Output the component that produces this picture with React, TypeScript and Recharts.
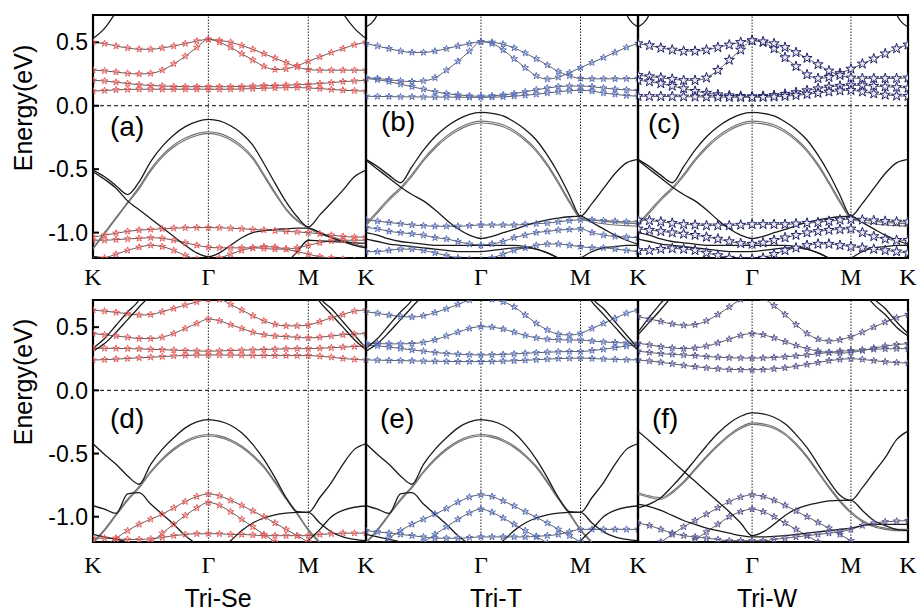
import React from "react";
import { LineChart, Line, XAxis, YAxis, ReferenceLine, ReferenceArea, Symbols } from "recharts";

// k-path sample points along K -> Γ -> M -> K (normalised path length)
const KPATH = [
  0, 0.0423, 0.0845, 0.1268, 0.169, 0.2113, 0.2536, 0.2958, 0.3381, 0.3803, 0.4226,
  0.4633, 0.5039, 0.5446, 0.5853, 0.626, 0.6667, 0.7073, 0.748, 0.7887,
  0.831, 0.8732, 0.9155, 0.9577, 1,
];
const SYM_TICKS = [0, 0.4226, 0.7887, 1];
const SYM_LABELS = ["K", "Γ", "M", "K"];
const E_TICKS = [-1, -0.5, 0, 0.5];
const E_RANGE: [number, number] = [-1.2, 0.715];

// ---- (a) Tri-Se, top row ----
const A_V1 = [-0.507, -0.56, -0.63, -0.7, -0.6, -0.44, -0.32, -0.23, -0.165, -0.126, -0.108, -0.12, -0.158, -0.218, -0.31, -0.455, -0.61, -0.757, -0.875, -0.955, -0.86, -0.765, -0.665, -0.56, -0.507];
const A_V2 = [-1.12, -1.0, -0.88, -0.76, -0.64, -0.5, -0.39, -0.31, -0.255, -0.22, -0.205, -0.218, -0.255, -0.315, -0.405, -0.54, -0.68, -0.81, -0.9, -0.96, -1.0, -1.03, -1.06, -1.09, -1.11];
const A_V3 = [-1.13, -1.01, -0.89, -0.77, -0.655, -0.515, -0.405, -0.325, -0.27, -0.234, -0.218, -0.232, -0.27, -0.33, -0.42, -0.555, -0.695, -0.82, -0.91, -0.965, -1.01, -1.04, -1.07, -1.1, -1.12];
const A_V4 = [-0.52, -0.58, -0.65, -0.75, -0.82, -0.89, -0.96, -1.03, -1.1, -1.16, -1.19, -1.16, -1.1, -1.04, -1.0, -0.985, -0.975, -0.97, -0.965, -0.965, -1.0, -1.04, -1.07, -1.1, -1.12];
const A_V5 = [-1.19, -1.2, -1.22, -1.25, -1.3, -1.3, -1.3, -1.3, -1.3, -1.3, -1.3, -1.3, -1.3, -1.3, -1.3, -1.3, -1.3, -1.24, -1.15, -1.06, -1.065, -1.07, -1.075, -1.08, -1.085];
const A_C0 = [0.53, 0.61, 0.74, 0.9, 1.1, 1.3, 1.3, 1.3, 1.3, 1.3, 1.3, 1.3, 1.3, 1.3, 1.3, 1.3, 1.3, 1.3, 1.3, 1.3, 1.1, 0.9, 0.73, 0.61, 0.53];
const A_R1 = [0.5, 0.49, 0.47, 0.455, 0.445, 0.445, 0.455, 0.47, 0.49, 0.51, 0.523, 0.5, 0.46, 0.41, 0.36, 0.31, 0.285, 0.29, 0.315, 0.35, 0.385, 0.42, 0.45, 0.48, 0.5];
const A_R2 = [0.28, 0.275, 0.265, 0.255, 0.25, 0.255, 0.28, 0.33, 0.39, 0.46, 0.523, 0.515, 0.5, 0.475, 0.445, 0.41, 0.375, 0.34, 0.305, 0.285, 0.28, 0.28, 0.28, 0.28, 0.28];
const A_R3 = [0.2, 0.195, 0.185, 0.175, 0.165, 0.16, 0.155, 0.152, 0.15, 0.15, 0.15, 0.15, 0.15, 0.152, 0.155, 0.158, 0.16, 0.162, 0.165, 0.168, 0.175, 0.182, 0.19, 0.195, 0.2];
const A_R4 = [0.115, 0.12, 0.125, 0.128, 0.13, 0.13, 0.13, 0.13, 0.13, 0.13, 0.13, 0.13, 0.13, 0.132, 0.135, 0.138, 0.14, 0.142, 0.143, 0.14, 0.135, 0.128, 0.122, 0.118, 0.115];
const A_R5 = [-1.035, -1.02, -1.005, -0.99, -0.98, -0.975, -0.97, -0.965, -0.962, -0.96, -0.96, -0.962, -0.965, -0.97, -0.975, -0.98, -0.985, -0.99, -0.995, -1.0, -1.01, -1.02, -1.03, -1.035, -1.035];
const A_R6 = [-1.06, -1.06, -1.055, -1.05, -1.045, -1.04, -1.045, -1.06, -1.08, -1.1, -1.115, -1.12, -1.12, -1.12, -1.12, -1.125, -1.13, -1.13, -1.12, -1.1, -1.08, -1.065, -1.06, -1.06, -1.06];
const A_R7 = [-1.22, -1.2, -1.17, -1.14, -1.115, -1.1, -1.11, -1.14, -1.18, -1.21, -1.22, -1.2, -1.17, -1.14, -1.12, -1.11, -1.115, -1.13, -1.15, -1.17, -1.19, -1.2, -1.21, -1.22, -1.22];

// ---- (b) Tri-T and (c) Tri-W, top row: shared plain bands ----
const B_V1 = [-0.423, -0.48, -0.547, -0.607, -0.48, -0.35, -0.245, -0.166, -0.108, -0.068, -0.053, -0.06, -0.08, -0.126, -0.187, -0.27, -0.39, -0.534, -0.705, -0.87, -0.77, -0.652, -0.534, -0.45, -0.423];
const B_V2 = [-0.93, -0.83, -0.73, -0.645, -0.54, -0.42, -0.32, -0.24, -0.18, -0.138, -0.121, -0.128, -0.15, -0.195, -0.26, -0.345, -0.46, -0.6, -0.75, -0.88, -0.9, -0.91, -0.92, -0.925, -0.93];
const B_V3 = [-0.945, -0.845, -0.745, -0.66, -0.555, -0.435, -0.335, -0.255, -0.195, -0.153, -0.136, -0.143, -0.165, -0.21, -0.275, -0.36, -0.475, -0.615, -0.765, -0.89, -0.915, -0.93, -0.94, -0.945, -0.95];
const B_V4 = [-0.43, -0.5, -0.57, -0.64, -0.7, -0.75, -0.82, -0.9, -0.97, -1.02, -1.046, -1.03, -1.0, -0.975, -0.945, -0.92, -0.9, -0.885, -0.875, -0.87, -0.92, -0.97, -1.02, -1.06, -1.09];
const B_V5 = [-1.0, -1.02, -1.05, -1.07, -1.08, -1.09, -1.1, -1.1, -1.1, -1.1, -1.1, -1.1, -1.1, -1.1, -1.11, -1.13, -1.16, -1.2, -1.24, -1.2, -1.15, -1.12, -1.11, -1.1, -1.1];
const B_V6 = [-1.05, -1.07, -1.09, -1.1, -1.11, -1.12, -1.13, -1.14, -1.15, -1.15, -1.15, -1.14, -1.13, -1.12, -1.12, -1.13, -1.16, -1.2, -1.25, -1.3, -1.3, -1.3, -1.3, -1.3, -1.3];
const B_C0 = [0.62, 0.72, 1.0, 1.3, 1.3, 1.3, 1.3, 1.3, 1.3, 1.3, 1.3, 1.3, 1.3, 1.3, 1.3, 1.3, 1.3, 1.3, 1.3, 1.3, 1.3, 1.3, 1.0, 0.72, 0.62];
const B_R1 = [0.49, 0.47, 0.45, 0.43, 0.42, 0.42, 0.43, 0.45, 0.47, 0.49, 0.505, 0.49, 0.44, 0.37, 0.3, 0.235, 0.21, 0.225, 0.26, 0.3, 0.34, 0.38, 0.42, 0.46, 0.49];
const B_R2 = [0.22, 0.215, 0.205, 0.195, 0.19, 0.195, 0.22, 0.28, 0.35, 0.43, 0.505, 0.5, 0.485, 0.455, 0.415, 0.37, 0.32, 0.27, 0.235, 0.215, 0.212, 0.212, 0.212, 0.213, 0.215];
const B_R3 = [0.215, 0.205, 0.19, 0.17, 0.15, 0.13, 0.11, 0.095, 0.085, 0.078, 0.075, 0.078, 0.085, 0.095, 0.11, 0.125, 0.14, 0.15, 0.155, 0.155, 0.15, 0.14, 0.13, 0.125, 0.12];
const B_R4 = [0.075, 0.073, 0.072, 0.07, 0.07, 0.069, 0.068, 0.068, 0.067, 0.066, 0.066, 0.067, 0.07, 0.075, 0.082, 0.09, 0.1, 0.11, 0.118, 0.122, 0.115, 0.1, 0.09, 0.08, 0.075];
const B_R5 = [-0.9, -0.91, -0.92, -0.93, -0.94, -0.945, -0.95, -0.95, -0.95, -0.945, -0.94, -0.94, -0.94, -0.94, -0.935, -0.93, -0.925, -0.915, -0.905, -0.9, -0.9, -0.905, -0.91, -0.915, -0.915];
const B_R6 = [-0.96, -0.97, -0.99, -1.0, -1.01, -1.02, -1.04, -1.05, -1.07, -1.09, -1.1, -1.09, -1.07, -1.04, -1.02, -1.0, -0.99, -0.98, -0.975, -0.97, -1.0, -1.02, -1.03, -1.035, -1.04];
const B_R7 = [-1.15, -1.15, -1.14, -1.13, -1.13, -1.14, -1.16, -1.18, -1.2, -1.21, -1.22, -1.2, -1.17, -1.14, -1.12, -1.1, -1.09, -1.09, -1.1, -1.11, -1.12, -1.12, -1.13, -1.14, -1.15];
const C_R1 = [0.49, 0.475, 0.455, 0.44, 0.43, 0.43, 0.44, 0.46, 0.48, 0.5, 0.513, 0.5, 0.45, 0.38, 0.31, 0.245, 0.215, 0.225, 0.255, 0.29, 0.33, 0.37, 0.41, 0.45, 0.48];
const C_R2 = [0.24, 0.23, 0.22, 0.21, 0.2, 0.2, 0.22, 0.28, 0.36, 0.44, 0.513, 0.505, 0.49, 0.46, 0.42, 0.375, 0.325, 0.275, 0.24, 0.22, 0.215, 0.215, 0.215, 0.215, 0.22];
const C_R3 = [0.2, 0.19, 0.175, 0.155, 0.135, 0.115, 0.1, 0.088, 0.08, 0.075, 0.073, 0.075, 0.082, 0.092, 0.105, 0.12, 0.135, 0.148, 0.155, 0.16, 0.16, 0.155, 0.15, 0.145, 0.14];
const C_R4 = [0.075, 0.074, 0.073, 0.072, 0.071, 0.07, 0.069, 0.068, 0.067, 0.066, 0.066, 0.067, 0.07, 0.075, 0.082, 0.09, 0.1, 0.11, 0.118, 0.122, 0.11, 0.095, 0.085, 0.078, 0.075];
const C_R5 = [-0.9, -0.905, -0.915, -0.925, -0.935, -0.94, -0.945, -0.945, -0.945, -0.94, -0.935, -0.935, -0.935, -0.935, -0.93, -0.925, -0.92, -0.91, -0.9, -0.895, -0.9, -0.905, -0.91, -0.915, -0.915];
const C_R6 = [-0.97, -0.98, -0.99, -1.0, -1.01, -1.02, -1.035, -1.05, -1.07, -1.085, -1.09, -1.08, -1.06, -1.04, -1.02, -1.0, -0.99, -0.98, -0.975, -0.97, -1.0, -1.03, -1.05, -1.06, -1.06];
const C_R7 = [-1.14, -1.14, -1.13, -1.125, -1.13, -1.14, -1.16, -1.18, -1.2, -1.21, -1.21, -1.2, -1.17, -1.14, -1.12, -1.1, -1.09, -1.09, -1.1, -1.11, -1.12, -1.13, -1.14, -1.15, -1.16];

// ---- (d) Tri-Se and (e) Tri-T, bottom row: shared plain bands ----
const D_V1 = [-0.423, -0.507, -0.585, -0.677, -0.743, -0.585, -0.467, -0.375, -0.297, -0.25, -0.231, -0.244, -0.276, -0.336, -0.428, -0.546, -0.69, -0.848, -0.96, -0.966, -0.848, -0.73, -0.585, -0.467, -0.423];
const D_V2 = [-1.2, -1.1, -0.98, -0.86, -0.76, -0.64, -0.54, -0.46, -0.4, -0.363, -0.349, -0.36, -0.39, -0.44, -0.51, -0.6, -0.72, -0.85, -0.97, -1.1, -1.2, -1.3, -1.3, -1.3, -1.3];
const D_V3 = [-1.21, -1.11, -0.99, -0.872, -0.772, -0.652, -0.552, -0.472, -0.412, -0.375, -0.361, -0.372, -0.402, -0.452, -0.522, -0.612, -0.732, -0.862, -0.982, -1.11, -1.21, -1.3, -1.3, -1.3, -1.3];
const D_V4 = [-0.913, -0.94, -0.974, -0.82, -0.81, -0.9, -0.98, -1.06, -1.15, -1.215, -1.25, -1.24, -1.19, -1.11, -1.05, -1.01, -0.985, -0.972, -0.966, -0.966, -1.05, -1.12, -1.16, -1.18, -1.19];
const D_V5 = [-1.14, -1.16, -1.18, -1.2, -1.25, -1.3, -1.3, -1.3, -1.3, -1.3, -1.3, -1.3, -1.3, -1.3, -1.3, -1.3, -1.3, -1.3, -1.3, -1.19, -1.1, -1.0, -0.95, -0.925, -0.915];
const D_C0 = [0.333, 0.41, 0.515, 0.62, 0.715, 0.9, 1.3, 1.3, 1.3, 1.3, 1.3, 1.3, 1.3, 1.3, 1.3, 1.3, 1.3, 1.3, 1.3, 1.1, 0.74, 0.648, 0.543, 0.438, 0.333];
const D_C1 = [0.31, 0.37, 0.46, 0.56, 0.66, 0.77, 1.0, 1.3, 1.3, 1.3, 1.3, 1.3, 1.3, 1.3, 1.3, 1.3, 1.3, 1.3, 1.0, 0.85, 0.7, 0.6, 0.5, 0.4, 0.32];
const D_R1 = [0.635, 0.627, 0.617, 0.606, 0.596, 0.6, 0.622, 0.648, 0.675, 0.7, 0.72, 0.72, 0.68, 0.635, 0.59, 0.55, 0.522, 0.51, 0.51, 0.517, 0.543, 0.575, 0.6, 0.627, 0.635];
const D_R2 = [0.45, 0.44, 0.43, 0.42, 0.41, 0.41, 0.42, 0.45, 0.49, 0.53, 0.564, 0.55, 0.52, 0.49, 0.46, 0.44, 0.43, 0.425, 0.42, 0.415, 0.42, 0.43, 0.44, 0.445, 0.45];
const D_R3 = [0.333, 0.333, 0.332, 0.33, 0.328, 0.325, 0.322, 0.318, 0.315, 0.312, 0.31, 0.312, 0.315, 0.318, 0.32, 0.323, 0.326, 0.328, 0.33, 0.33, 0.333, 0.337, 0.342, 0.347, 0.35];
const D_R4 = [0.24, 0.243, 0.247, 0.252, 0.257, 0.262, 0.267, 0.272, 0.276, 0.279, 0.28, 0.28, 0.279, 0.278, 0.277, 0.276, 0.275, 0.275, 0.275, 0.275, 0.27, 0.262, 0.252, 0.245, 0.24];
const D_R5 = [-1.28, -1.23, -1.17, -1.11, -1.06, -1.02, -0.98, -0.93, -0.88, -0.84, -0.82, -0.835, -0.87, -0.91, -0.955, -1.0, -1.05, -1.1, -1.15, -1.2, -1.25, -1.3, -1.3, -1.3, -1.3];
const D_R6 = [-1.35, -1.33, -1.3, -1.27, -1.24, -1.2, -1.13, -1.06, -0.99, -0.93, -0.887, -0.91, -0.96, -1.02, -1.08, -1.14, -1.2, -1.26, -1.3, -1.3, -1.3, -1.3, -1.3, -1.3, -1.3];
const D_R7 = [-1.17, -1.17, -1.175, -1.18, -1.18, -1.175, -1.165, -1.15, -1.14, -1.135, -1.135, -1.135, -1.14, -1.14, -1.145, -1.15, -1.15, -1.15, -1.15, -1.15, -1.14, -1.135, -1.13, -1.13, -1.13];
const E_R1 = [0.622, 0.61, 0.595, 0.585, 0.58, 0.59, 0.615, 0.645, 0.68, 0.715, 0.74, 0.72, 0.7, 0.66, 0.596, 0.53, 0.478, 0.444, 0.438, 0.451, 0.49, 0.53, 0.57, 0.61, 0.635];
const E_R2 = [0.373, 0.37, 0.368, 0.368, 0.37, 0.38, 0.4, 0.43, 0.46, 0.49, 0.504, 0.5, 0.485, 0.46, 0.435, 0.415, 0.405, 0.4, 0.398, 0.398, 0.39, 0.383, 0.378, 0.375, 0.373];
const E_R3 = [0.36, 0.352, 0.342, 0.332, 0.32, 0.31, 0.3, 0.292, 0.286, 0.282, 0.28, 0.281, 0.284, 0.288, 0.293, 0.298, 0.302, 0.305, 0.307, 0.307, 0.315, 0.325, 0.338, 0.35, 0.36];
const E_R4 = [0.241, 0.239, 0.237, 0.235, 0.233, 0.231, 0.23, 0.229, 0.228, 0.228, 0.228, 0.229, 0.231, 0.234, 0.238, 0.242, 0.247, 0.251, 0.254, 0.255, 0.252, 0.248, 0.245, 0.242, 0.241];
const E_R5 = [-1.28, -1.23, -1.17, -1.11, -1.06, -1.02, -0.98, -0.935, -0.885, -0.845, -0.827, -0.84, -0.875, -0.915, -0.96, -1.005, -1.05, -1.1, -1.15, -1.2, -1.25, -1.3, -1.3, -1.3, -1.3];
const E_R6 = [-1.35, -1.33, -1.3, -1.27, -1.24, -1.2, -1.14, -1.08, -1.02, -0.97, -0.94, -0.965, -1.01, -1.06, -1.11, -1.16, -1.21, -1.3, -1.3, -1.3, -1.3, -1.3, -1.3, -1.3, -1.3];
const E_R7 = [-1.11, -1.12, -1.13, -1.14, -1.15, -1.16, -1.17, -1.17, -1.17, -1.165, -1.16, -1.16, -1.16, -1.16, -1.16, -1.155, -1.15, -1.14, -1.12, -1.1, -1.1, -1.1, -1.1, -1.1, -1.1];

// ---- (f) Tri-W, bottom row ----
const F_V1 = [-0.323, -0.4, -0.48, -0.56, -0.64, -0.72, -0.8, -0.88, -0.96, -1.05, -1.15, -1.12, -1.06, -0.99, -0.94, -0.91, -0.89, -0.875, -0.87, -0.87, -0.95, -1.03, -1.07, -1.1, -1.11];
const F_V2 = [-0.93, -0.9, -0.85, -0.76, -0.66, -0.55, -0.44, -0.34, -0.26, -0.205, -0.178, -0.186, -0.213, -0.265, -0.35, -0.454, -0.585, -0.717, -0.83, -0.87, -0.77, -0.65, -0.533, -0.39, -0.323];
const F_V3 = [-0.81, -0.835, -0.85, -0.8, -0.72, -0.62, -0.52, -0.43, -0.35, -0.29, -0.257, -0.265, -0.29, -0.34, -0.42, -0.52, -0.64, -0.76, -0.87, -0.96, -1.03, -1.07, -1.09, -1.1, -1.1];
const F_V4 = [-0.82, -0.847, -0.862, -0.812, -0.732, -0.632, -0.532, -0.442, -0.362, -0.302, -0.269, -0.277, -0.302, -0.352, -0.432, -0.532, -0.652, -0.772, -0.882, -0.972, -1.04, -1.08, -1.1, -1.11, -1.11];
const F_V5 = [-0.9, -0.92, -0.95, -0.99, -1.03, -1.06, -1.09, -1.11, -1.13, -1.15, -1.16, -1.16, -1.155, -1.15, -1.14, -1.13, -1.12, -1.11, -1.1, -1.09, -1.07, -1.06, -1.06, -1.06, -1.06];
const F_C0 = [0.46, 0.58, 0.69, 0.8, 1.0, 1.3, 1.3, 1.3, 1.3, 1.3, 1.3, 1.3, 1.3, 1.3, 1.3, 1.3, 1.3, 1.3, 1.3, 1.3, 0.85, 0.727, 0.648, 0.543, 0.45];
const F_C1 = [0.44, 0.54, 0.64, 0.75, 0.9, 1.1, 1.3, 1.3, 1.3, 1.3, 1.3, 1.3, 1.3, 1.3, 1.3, 1.3, 1.3, 1.3, 1.3, 1.0, 0.8, 0.68, 0.6, 0.5, 0.43];
const F_R1 = [0.583, 0.565, 0.545, 0.525, 0.515, 0.52, 0.55, 0.6, 0.66, 0.72, 0.76, 0.73, 0.67, 0.6, 0.52, 0.45, 0.405, 0.39, 0.4, 0.425, 0.46, 0.5, 0.54, 0.575, 0.6];
const F_R2 = [0.373, 0.36, 0.345, 0.335, 0.33, 0.335, 0.35, 0.375, 0.405, 0.435, 0.45, 0.44, 0.415, 0.385, 0.355, 0.33, 0.31, 0.3, 0.295, 0.3, 0.315, 0.335, 0.35, 0.362, 0.37];
const F_R3 = [0.31, 0.3, 0.29, 0.285, 0.28, 0.275, 0.268, 0.262, 0.258, 0.256, 0.255, 0.256, 0.26, 0.265, 0.272, 0.28, 0.29, 0.3, 0.31, 0.315, 0.32, 0.325, 0.328, 0.33, 0.33];
const F_R4 = [0.24, 0.232, 0.222, 0.21, 0.198, 0.187, 0.178, 0.17, 0.166, 0.164, 0.163, 0.165, 0.17, 0.178, 0.19, 0.205, 0.22, 0.235, 0.245, 0.25, 0.245, 0.235, 0.226, 0.22, 0.215];
const F_R5 = [-1.3, -1.26, -1.2, -1.14, -1.08, -1.03, -0.98, -0.93, -0.88, -0.845, -0.827, -0.84, -0.87, -0.91, -0.955, -1.0, -1.045, -1.09, -1.14, -1.19, -1.24, -1.3, -1.3, -1.3, -1.3];
const F_R6 = [-1.35, -1.33, -1.3, -1.27, -1.23, -1.18, -1.12, -1.06, -1.0, -0.96, -0.94, -0.96, -1.0, -1.05, -1.1, -1.15, -1.2, -1.26, -1.3, -1.3, -1.3, -1.3, -1.3, -1.3, -1.3];
const F_R7 = [-1.05, -1.07, -1.1, -1.13, -1.15, -1.16, -1.17, -1.18, -1.19, -1.19, -1.19, -1.19, -1.18, -1.17, -1.16, -1.15, -1.14, -1.13, -1.12, -1.1, -1.07, -1.05, -1.04, -1.035, -1.03];

const SANS = "'Liberation Sans', Arial, sans-serif";
const SERIF = "'Liberation Serif', 'Times New Roman', serif";

type Panel = {
  tag: string;
  left: number;
  top: number;
  w: number;
  h: number;
  firstCol: boolean;
  xMargin: number;
  black: number[][];
  gray: number[][];
  stars: number[][];
  starColor: string;
  starFill: string;
  starSize: number;
  tagX: number;
  tagY: number;
};

const PANELS: Panel[] = [
  { tag: "(a)", left: 93, top: 15, w: 273, h: 243, firstCol: true, xMargin: 10, black: [A_V1, A_V4, A_V5, A_C0], gray: [A_V2, A_V3], stars: [A_R1, A_R2, A_R3, A_R4, A_R5, A_R6, A_R7], starColor: "#f25c5c", starFill: "none", starSize: 14, tagX: 110, tagY: 113 },
  { tag: "(b)", left: 366, top: 15, w: 272, h: 243, firstCol: false, xMargin: 10, black: [B_V1, B_V4, B_V5, B_V6, B_C0], gray: [B_V2, B_V3], stars: [B_R1, B_R2, B_R3, B_R4, B_R5, B_R6, B_R7], starColor: "#5a72c2", starFill: "none", starSize: 14, tagX: 381, tagY: 108 },
  { tag: "(c)", left: 638, top: 15, w: 270, h: 243, firstCol: false, xMargin: 10, black: [B_V1, B_V4, B_V5, B_V6, B_C0], gray: [B_V2, B_V3], stars: [C_R1, C_R2, C_R3, C_R4, C_R5, C_R6, C_R7], starColor: "#22226a", starFill: "#e8e8f0", starSize: 32, tagX: 648, tagY: 110 },
  { tag: "(d)", left: 93, top: 300, w: 273, h: 242, firstCol: true, xMargin: 14, black: [D_V1, D_V4, D_V5, D_C0, D_C1], gray: [D_V2, D_V3], stars: [D_R1, D_R2, D_R3, D_R4, D_R5, D_R6, D_R7], starColor: "#f25c5c", starFill: "none", starSize: 14, tagX: 110, tagY: 405 },
  { tag: "(e)", left: 366, top: 300, w: 272, h: 242, firstCol: false, xMargin: 14, black: [D_V1, D_V4, D_V5, D_C0, D_C1], gray: [D_V2, D_V3], stars: [E_R1, E_R2, E_R3, E_R4, E_R5, E_R6, E_R7], starColor: "#5a72c2", starFill: "none", starSize: 14, tagX: 380, tagY: 405 },
  { tag: "(f)", left: 638, top: 300, w: 270, h: 242, firstCol: false, xMargin: 14, black: [F_V1, F_V2, F_V5, F_C0, F_C1], gray: [F_V3, F_V4], stars: [F_R1, F_R2, F_R3, F_R4, F_R5, F_R6, F_R7], starColor: "#5c5c9e", starFill: "none", starSize: 14, tagX: 652, tagY: 405 },
];

const toRows = (band: number[]) => band.map((e, i) => ({ k: KPATH[i], e }));

const YW = 92;
const MT = 4;
const XH = 42;
const MR = 14; // room for the last "K" label

function BandPanel({ p }: { p: Panel }) {
  const starDot = (props: any) => {
    const { cx, cy, index } = props;
    if (cx == null || cy == null) return <g key={`s-${index}`} />;
    return (
      <Symbols
        key={`s-${index}`}
        cx={cx}
        cy={cy}
        type="star"
        size={p.starSize}
        fill={p.starFill}
        stroke={p.starColor}
        strokeWidth={1}
      />
    );
  };

  return (
    <div style={{ position: "absolute", left: p.left - YW, top: p.top - MT }}>
      <LineChart width={YW + p.w + 1 + MR} height={MT + p.h + XH} margin={{ top: MT, right: MR, bottom: 0, left: 0 }}>
        <XAxis
          type="number"
          dataKey="k"
          domain={[0, 1]}
          ticks={SYM_TICKS}
          interval={0}
          allowDataOverflow
          axisLine={false}
          tickLine={false}
          tickSize={0}
          tickMargin={p.xMargin}
          height={XH}
          tick={{ fill: "#000", fontSize: 24, fontFamily: SERIF }}
          tickFormatter={(v: number, i: number) => (i === 0 && !p.firstCol ? "" : SYM_LABELS[i])}
        />
        <YAxis
          yAxisId="l"
          type="number"
          domain={E_RANGE}
          allowDataOverflow
          ticks={E_TICKS}
          interval={0}
          width={YW}
          axisLine={false}
          tickSize={-6}
          tickMargin={11}
          tickLine={{ stroke: "#000", strokeWidth: 2 }}
          tick={p.firstCol ? { fill: "#000", fontSize: 23, fontFamily: SANS } : false}
          tickFormatter={(v: number) => v.toFixed(1)}
        />
        <YAxis
          yAxisId="r"
          orientation="right"
          type="number"
          domain={E_RANGE}
          allowDataOverflow
          ticks={E_TICKS}
          interval={0}
          width={1}
          axisLine={false}
          tickSize={-6}
          tickLine={{ stroke: "#000", strokeWidth: 2 }}
          tick={false}
        />
        <ReferenceLine yAxisId="l" y={0} stroke="#000" strokeWidth={1} strokeDasharray="4 3" />
        <ReferenceLine yAxisId="l" x={SYM_TICKS[1]} stroke="#222" strokeWidth={1} strokeDasharray="1.5 1.5" />
        <ReferenceLine yAxisId="l" x={SYM_TICKS[2]} stroke="#222" strokeWidth={1} strokeDasharray="1.5 1.5" />
        {p.stars.map((band, i) => (
          <Line
            key={`c${i}`}
            yAxisId="l"
            data={toRows(band)}
            dataKey="e"
            type="monotone"
            stroke="#5e5e5e"
            strokeWidth={1}
            dot={starDot}
            activeDot={false}
            isAnimationActive={false}
          />
        ))}
        {p.gray.map((band, i) => (
          <Line
            key={`g${i}`}
            yAxisId="l"
            data={toRows(band)}
            dataKey="e"
            type="monotone"
            stroke="#707070"
            strokeWidth={1.1}
            dot={false}
            activeDot={false}
            isAnimationActive={false}
          />
        ))}
        {p.black.map((band, i) => (
          <Line
            key={`b${i}`}
            yAxisId="l"
            data={toRows(band)}
            dataKey="e"
            type="monotone"
            stroke="#1a1a1a"
            strokeWidth={1.3}
            dot={false}
            activeDot={false}
            isAnimationActive={false}
          />
        ))}
        <ReferenceArea
          yAxisId="l"
          x1={0}
          x2={1}
          y1={E_RANGE[0]}
          y2={E_RANGE[1]}
          fill="none"
          fillOpacity={0}
          stroke="#000"
          strokeWidth={2.2}
          ifOverflow="visible"
        />
      </LineChart>
    </div>
  );
}

const textBase: React.CSSProperties = {
  position: "absolute",
  fontFamily: SANS,
  color: "#000",
  whiteSpace: "nowrap",
  lineHeight: 1,
};

export default function App() {
  return (
    <div style={{ position: "absolute", left: 0, top: 0, width: 922, height: 610, background: "#fff", overflow: "hidden" }}>
      {PANELS.map((p) => (
        <BandPanel key={p.tag} p={p} />
      ))}
      {PANELS.map((p) => (
        <div key={`t${p.tag}`} style={{ ...textBase, left: p.tagX, top: p.tagY, fontSize: 28 }}>
          {p.tag}
        </div>
      ))}
      {[108, 382].map((cy) => (
        <div
          key={`y${cy}`}
          style={{ ...textBase, left: 23, top: cy, fontSize: 25, transform: "translate(-50%, -50%) rotate(-90deg)" }}
        >
          Energy(eV)
        </div>
      ))}
      {[
        ["Tri-Se", 218],
        ["Tri-T", 496],
        ["Tri-W", 767],
      ].map(([name, cx]) => (
        <div
          key={name as string}
          style={{ ...textBase, left: cx as number, top: 598, fontSize: 25, transform: "translate(-50%, -50%)" }}
        >
          {name}
        </div>
      ))}
    </div>
  );
}
